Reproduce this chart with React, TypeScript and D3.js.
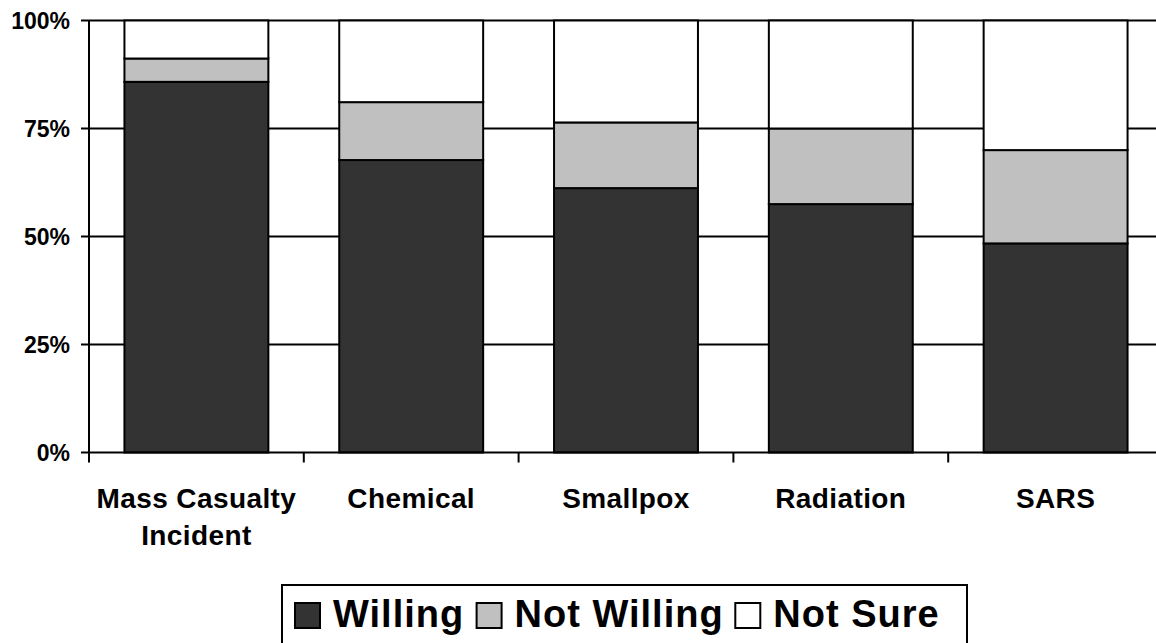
import React from 'react'
import * as d3 from 'd3'

// categories and values (percent)
const categories = ['Mass Casualty Incident', 'Chemical', 'Smallpox', 'Radiation', 'SARS']
const categoryLines = [['Mass Casualty', 'Incident'], ['Chemical'], ['Smallpox'], ['Radiation'], ['SARS']]
const willing = [85.8, 67.7, 61.2, 57.5, 48.4]
const notWilling = [5.4, 13.4, 15.2, 17.5, 21.6]
const notSure = [8.8, 18.9, 23.6, 25.0, 30.0]
const seriesNames = ['Willing', 'Not Willing', 'Not Sure']
const seriesColors = ['#333333', '#c0c0c0', '#ffffff']
const yTicks = [0, 25, 50, 75, 100]

const W = 1156
const H = 643
const font = '"Liberation Sans", Arial, sans-serif'

export default function App() {
  const margin = {left: 89, top: 20.5, right: -7, bottom: 190.5}
  const plotRight = W - margin.right
  const plotBottom = H - margin.bottom

  const x = d3.scaleBand<string>()
    .domain(categories)
    .range([margin.left, plotRight])
    .paddingInner(0.33)
    .paddingOuter(0.165)

  const y = d3.scaleLinear().domain([0, 100]).range([plotBottom, margin.top])

  const rows = categories.map((c, i) => ({
    cat: c,
    'Willing': willing[i],
    'Not Willing': notWilling[i],
    'Not Sure': notSure[i],
  }))
  const stacked = d3.stack<any>().keys(seriesNames)(rows)

  const step = x.step()
  const boundaries = d3.range(categories.length + 1).map(i => margin.left + i * step)

  // legend layout (text widths approx for 38px bold + 1px letter spacing)
  const legendFont = 38
  const textWidths = [131.6, 208.7, 166.3]
  const legendItems: {x: number, tx: number}[] = []
  let cx = 295
  seriesNames.forEach((s, i) => {
    legendItems.push({x: cx, tx: cx + 38})
    cx = cx + 38 + textWidths[i] + 12
  })

  return (
    <svg width={W} height={H} style={{position: 'absolute', left: 0, top: 0, display: 'block'}}
      fontFamily={font} fontWeight="bold">
      <rect x={0} y={0} width={W} height={H} fill="#fff" />

      {/* gridlines */}
      {yTicks.filter(t => t > 0).map(t => (
        <line key={t} x1={margin.left} x2={plotRight} y1={y(t)} y2={y(t)} stroke="#000" strokeWidth={2} />
      ))}

      {/* bars */}
      {stacked.map((layer, si) => (
        <g key={layer.key} fill={seriesColors[si]}>
          {layer.map((d, i) => (
            <rect key={i} x={x(categories[i])} width={x.bandwidth()}
              y={y(d[1])} height={y(d[0]) - y(d[1])}
              stroke="#000" strokeWidth={2} />
          ))}
        </g>
      ))}

      {/* y axis */}
      <line x1={margin.left} x2={margin.left} y1={margin.top} y2={plotBottom} stroke="#000" strokeWidth={2} />
      {yTicks.map(t => (
        <g key={t}>
          <line x1={margin.left - 8} x2={margin.left} y1={y(t)} y2={y(t)} stroke="#000" strokeWidth={2} />
          <text x={70} y={y(t)} dy="0.36em" textAnchor="end" fontSize={23}>{t}%</text>
        </g>
      ))}

      {/* x axis */}
      <line x1={margin.left} x2={plotRight} y1={plotBottom} y2={plotBottom} stroke="#000" strokeWidth={2} />
      {boundaries.map((b, i) => (
        <line key={i} x1={b} x2={b} y1={plotBottom} y2={plotBottom + 10} stroke="#000" strokeWidth={2} />
      ))}
      {categories.map((c, i) => (
        <text key={c} x={(x(c) as number) + x.bandwidth() / 2} y={508} textAnchor="middle" fontSize={28}
          letterSpacing={0.4}>
          {categoryLines[i].map((ln, j) => (
            <tspan key={j} x={(x(c) as number) + x.bandwidth() / 2} y={508 + j * 37}>{ln}</tspan>
          ))}
        </text>
      ))}

      {/* legend */}
      <rect x={282} y={585} width={685} height={80} fill="none" stroke="#000" strokeWidth={2} />
      {seriesNames.map((s, i) => (
        <g key={s}>
          <rect x={legendItems[i].x} y={603} width={25} height={25} fill={seriesColors[i]} stroke="#000" strokeWidth={2} />
          <text x={legendItems[i].tx} y={627} fontSize={legendFont} letterSpacing={1}>{s}</text>
        </g>
      ))}
    </svg>
  )
}
